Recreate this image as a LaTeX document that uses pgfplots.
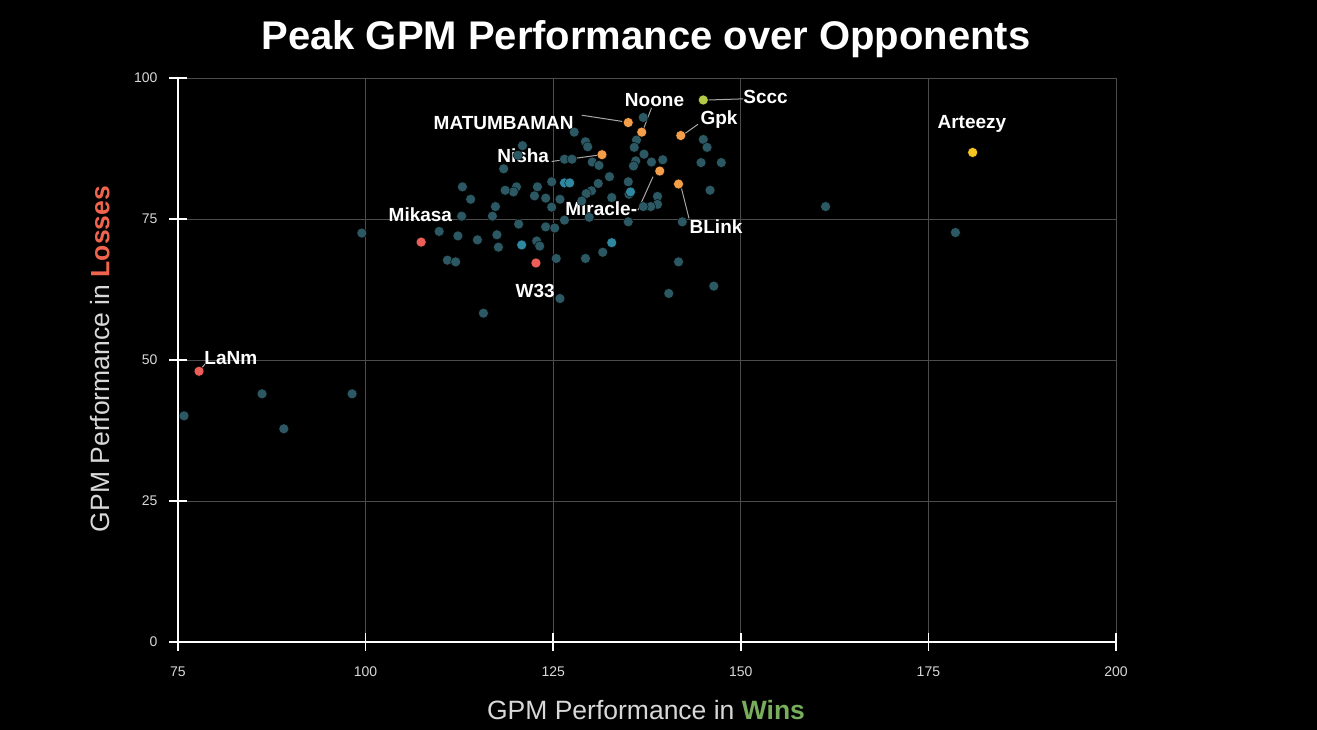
\documentclass[border=0pt]{standalone}
\usepackage{pgfplots}
\pgfplotsset{compat=1.18}
\usepackage{fontspec}
\setmainfont{Liberation Sans}
\definecolor{tealdark}{HTML}{2B5862}
\definecolor{tealbright}{HTML}{2E88A0}
\definecolor{dotorange}{HTML}{F59E4A}
\definecolor{dotred}{HTML}{EE5E58}
\definecolor{dotgreen}{HTML}{B4C945}
\definecolor{dotyellow}{HTML}{F7C520}
\definecolor{gridgray}{HTML}{4C4C4C}
\definecolor{ticklab}{HTML}{D8D8D8}
\definecolor{winsgreen}{HTML}{78AD5C}
\definecolor{lossred}{HTML}{F0644E}
\definecolor{leader}{HTML}{A8A8A8}
\pgfplotstableread{
x y
75.8 40.1
86.2 44.0
89.1 37.8
98.2 44.0
99.5 72.5
137.0 93.0
127.8 90.4
129.3 88.7
129.6 87.8
136.1 89.0
135.8 87.7
145.0 89.1
145.5 87.7
120.9 88.0
120.3 86.3
126.5 85.6
127.5 85.6
130.2 85.1
131.1 84.5
137.1 86.5
136.0 85.3
135.7 84.4
138.1 85.1
139.6 85.5
144.7 85.0
147.4 85.0
118.4 83.9
132.5 82.5
124.8 81.6
122.9 80.7
131.0 81.3
135.0 81.6
112.9 80.7
120.1 80.7
119.7 79.8
118.6 80.1
130.1 80.0
129.4 79.5
145.9 80.1
114.0 78.5
122.5 79.1
124.0 78.7
125.9 78.5
128.8 78.2
132.8 78.8
135.1 79.4
138.9 79.0
138.9 77.6
138.0 77.2
137.0 77.2
117.3 77.2
124.8 77.1
116.9 75.5
112.8 75.5
126.5 74.8
129.8 75.3
135.0 74.5
142.2 74.5
120.4 74.1
124.0 73.6
125.2 73.4
109.8 72.8
112.3 72.0
114.9 71.3
117.5 72.2
117.7 70.0
122.8 71.1
123.2 70.2
125.4 68.0
129.3 68.0
131.6 69.1
110.9 67.7
112.0 67.4
141.7 67.4
140.4 61.8
146.4 63.1
125.9 60.9
115.7 58.3
161.3 77.2
178.6 72.6
}\tealdata
\pgfplotstableread{
x y
126.5 81.4
127.2 81.4
135.3 79.8
120.8 70.4
132.8 70.8
}\tealbrightdata
\pgfplotstableread{
x y
135.0 92.1
136.8 90.4
142.0 89.8
131.5 86.4
139.2 83.5
141.7 81.2
}\orangedata
\pgfplotstableread{
x y
77.8 48.0
107.4 70.9
122.7 67.2
}\reddata
\begin{document}
\begin{tikzpicture}[x=1pt,y=1pt]
\fill[black] (0,0) rectangle (1317,730);
\begin{axis}[
  at={(178pt,88pt)}, anchor=south west,
  scale only axis, width=938pt, height=564pt,
  xmin=75, xmax=200, ymin=0, ymax=100,
  xtick={75,100,...,200}, ytick={0,25,...,100},
  axis x line*=bottom, axis y line*=left,
  axis line style={white, line width=2pt},
  tick style={white, line width=1.6pt},
  tick align=center, major tick length=18pt,
  grid=major, major grid style={color=gridgray, line width=0.8pt},
  ticklabel style={font=\fontsize{14}{14}\selectfont, text=ticklab},
  /pgf/number format/assume math mode=true,
  xticklabel style={yshift=-12pt},
  yticklabel style={xshift=-8pt},
  clip=false,
]
\addplot[only marks, mark=*, mark size=5pt, mark options={fill=tealdark, draw=none}] table {\tealdata};
\addplot[only marks, mark=*, mark size=5pt, mark options={fill=tealbright, draw=none}] table {\tealbrightdata};
% leader lines
\draw[leader, line width=1pt] (77.8,48.0) -- (78.6,49.3);
\draw[leader, line width=1pt] (124.8,85.2) -- (130.9,86.3);
\draw[leader, line width=1pt] (128.8,93.4) -- (134.2,92.3);
\draw[leader, line width=1pt] (138.1,94.7) -- (137.1,91.2);
\draw[leader, line width=1pt] (145.7,96.1) -- (150.3,96.3);
\draw[leader, line width=1pt] (142.6,90.2) -- (144.3,91.8);
\draw[leader, line width=1pt] (136.3,76.6) -- (138.3,82.5);
\draw[leader, line width=1pt] (142.1,80.4) -- (143.1,75.1);
\addplot[only marks, mark=*, mark size=5pt, mark options={fill=dotorange, draw=none}] table {\orangedata};
\addplot[only marks, mark=*, mark size=5pt, mark options={fill=dotred, draw=none}] table {\reddata};
\addplot[only marks, mark=*, mark size=5pt, mark options={fill=dotgreen, draw=none}] coordinates {(145.0,96.1)};
\addplot[only marks, mark=*, mark size=5pt, mark options={fill=dotyellow, draw=none}] coordinates {(180.9,86.8)};
% point labels
\tikzset{plab/.style={font=\bfseries\fontsize{19}{19}\selectfont, text=white, inner sep=0pt}}
\node[plab, anchor=west] at (78.5,50.4) {LaNm};
\node[plab] at (107.3,75.7) {Mikasa};
\node[plab] at (122.6,62.2) {W33};
\node[plab] at (121.0,86.3) {Nisha};
\node[plab] at (118.4,92.0) {MATUMBAMAN};
\node[plab] at (138.5,96.1) {Noone};
\node[plab] at (153.3,96.6) {Sccc};
\node[plab] at (147.1,92.6) {Gpk};
\node[plab] at (180.8,91.8) {Arteezy};
\node[plab] at (131.4,76.8) {Miracle-};
\node[plab] at (146.7,73.6) {BLink};
\end{axis}
\node[font=\bfseries\fontsize{40}{40}\selectfont, text=white] at (646,691) {Peak GPM Performance over Opponents};
\node[font=\fontsize{26.5}{26.5}\selectfont, text=ticklab] at (646,20) {GPM Performance in \textcolor{winsgreen}{\bfseries Wins}};
\node[font=\fontsize{26.5}{26.5}\selectfont, text=ticklab, rotate=90] at (100,371) {GPM Performance in \textcolor{lossred}{\bfseries Losses}};
\pgfresetboundingbox
\path (0,0) rectangle (1317,730);
\end{tikzpicture}
\end{document}
